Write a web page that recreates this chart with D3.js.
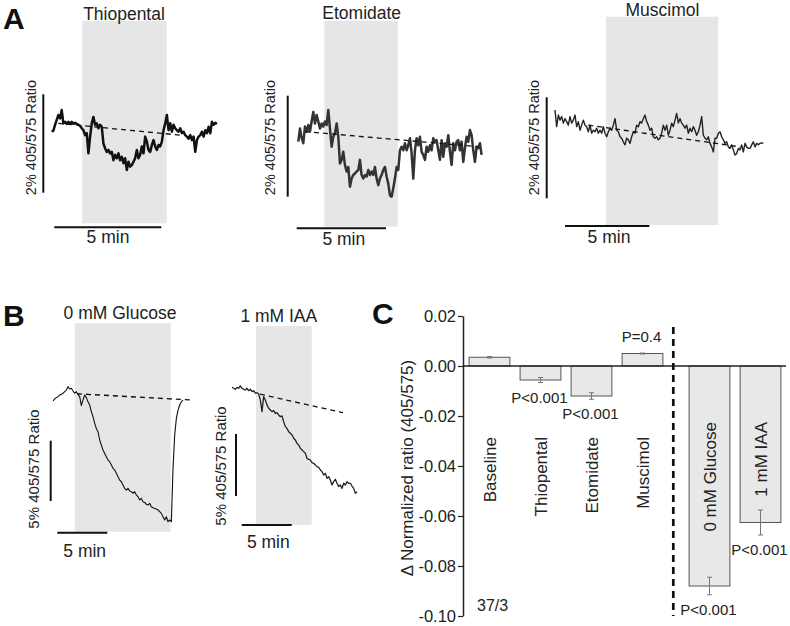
<!DOCTYPE html>
<html><head><meta charset="utf-8">
<script src="https://cdn.jsdelivr.net/npm/d3@7"></script>
<style>body{margin:0;background:#fff}svg{display:block}text{font-family:"Liberation Sans",Arial,sans-serif;fill:#222}</style>
</head><body><svg id="fig" width="790" height="626"></svg>
<script>
// ---------- DATA ----------
// Panel A/B traces: % change of 405/575 ratio relative to first sample, uniform sampling
const thiopental = [0,0.02,0.14,0.24,0.34,0.27,0.44,0.17,0.20,0.16,0.20,0.16,0.20,0.16,0.18,0.16,0.14,0.12,0.07,0.03,-0.07,-0.03,-0.44,-0.10,0.17,0.30,0.14,0.17,0.07,0.14,0.10,-0.24,-0.34,-0.41,-0.37,-0.44,-0.41,-0.58,-0.47,-0.54,-0.44,-0.58,-0.51,-0.64,-0.54,-0.78,-0.61,-0.71,-0.68,-0.61,-0.54,-0.37,-0.54,-0.47,-0.30,-0.44,-0.10,-0.20,-0.37,-0.41,-0.27,-0.17,-0.30,-0.37,-0.27,-0.30,-0.20,0.03,0.17,0.34,0.03,0.17,0,0.14,0.07,0.03,0,0.07,-0.03,0,-0.07,-0.10,-0.14,-0.07,-0.17,-0.10,-0.41,-0.17,-0.10,-0.07,0,-0.10,0.03,-0.03,0.10,-0.03,0.20,0.14,0.18,0.16];
const etomidate = [0,0.26,0.07,-0.03,0.30,0.20,0.33,0.20,0.40,0.59,0.36,0.53,0.40,0.26,0.36,0.30,0.40,0.33,0.63,0.26,-0.10,0.10,0.17,0.36,0.10,-0.43,-0.36,-0.20,-0.46,-0.59,-0.50,-0.89,-0.73,-0.66,-0.63,-0.59,-0.56,-0.36,-0.66,-0.73,-0.66,-0.69,-0.56,-0.66,-0.59,-0.66,-0.50,-0.73,-0.86,-0.73,-0.66,-0.56,-0.50,-0.69,-0.83,-1.06,-1.09,-0.92,-0.73,-0.50,-0.56,-0.17,-0.10,-0.17,-0.03,-0.17,-0.07,0.07,-0.23,-0.73,-0.17,0.07,-0.07,0.10,-0.20,-0.26,-0.36,-0.10,-0.20,-0.07,-0.17,0.07,0,0.03,-0.17,-0.36,0.03,-0.30,-0.03,-0.10,0.13,-0.20,-0.46,-0.03,-0.17,0,0.03,-0.17,0,-0.40,-0.13,0.10,0,0.23,0.13,-0.17,-0.40,-0.10,-0.13,-0.03,-0.26];
const muscimol = [0,-0.33,-0.10,-0.20,-0.13,-0.26,-0.17,-0.23,-0.30,-0.13,-0.26,-0.20,-0.10,-0.33,-0.23,-0.40,-0.30,-0.20,-0.30,-0.33,-0.43,-0.30,-0.46,-0.40,-0.43,-0.36,-0.46,-0.40,-0.46,-0.33,-0.46,-0.53,-0.43,-0.36,-0.40,-0.30,-0.17,-0.40,-0.43,-0.53,-0.56,-0.63,-0.69,-0.56,-0.59,-0.66,-0.53,-0.43,-0.46,-0.30,-0.33,-0.23,-0.26,-0.17,-0.10,-0.23,-0.30,-0.40,-0.36,-0.53,-0.56,-0.53,-0.59,-0.56,-0.46,-0.30,-0.40,-0.30,-0.50,-0.40,-0.26,-0.33,-0.20,-0.07,-0.26,-0.17,-0.26,-0.30,-0.36,-0.30,-0.46,-0.36,-0.43,-0.33,-0.40,-0.50,-0.43,-0.30,-0.13,-0.50,-0.56,-0.59,-0.53,-0.66,-0.73,-0.83,-0.56,-0.56,-0.46,-0.43,-0.53,-0.59,-0.66,-0.63,-0.73,-0.76,-0.69,-0.79,-0.89,-0.86,-0.76,-0.79,-0.69,-0.83,-0.66,-0.73,-0.76,-0.76,-0.69,-0.63,-0.73,-0.66,-0.69,-0.66,-0.65,-0.66];
const glucose0 = [0,0.17,0.28,0.36,0.50,0.55,0.64,0.77,0.91,1.19,0.99,1.05,0.83,0.64,0.77,0.55,0.36,-0.39,0.08,0.50,0.28,-0.06,-0.33,-0.88,-1.30,-1.85,-2.27,-2.54,-3.23,-3.65,-4.06,-4.34,-4.61,-4.89,-5.03,-5.30,-5.58,-5.72,-5.99,-6.27,-6.55,-6.69,-6.96,-7.24,-7.38,-7.24,-7.46,-7.51,-7.65,-7.51,-7.79,-7.93,-8.20,-8.07,-8.34,-8.40,-8.56,-8.62,-8.48,-8.76,-8.84,-8.90,-8.95,-9.03,-9.17,-9.31,-9.59,-9.86,-9.59,-10.0,-9.86,-10.0,-5.58,-2.82,-1.44,-0.75,-0.33,-0.06,0.08];
const iaa1 = [0,-0.08,-0.16,0,-0.08,0.11,-0.08,-0.16,-0.22,-0.08,-0.27,-0.16,-0.35,-0.27,-0.48,-0.43,-0.54,-1.02,-1.96,-0.75,-1.02,-1.42,-1.69,-1.83,-1.96,-1.88,-2.10,-2.04,-2.23,-2.37,-2.31,-2.77,-3.17,-3.31,-3.58,-3.71,-3.84,-4.11,-4.25,-4.52,-4.65,-4.92,-5.05,-5.19,-5.32,-5.73,-5.81,-5.86,-6.08,-6.13,-6.26,-6.40,-6.45,-6.67,-6.80,-7.07,-6.94,-7.34,-7.20,-7.47,-7.88,-7.61,-7.42,-7.74,-8.01,-7.88,-8.15,-7.74,-7.88,-7.61,-7.74,-7.74,-7.96,-8.15,-8.55,-8.41];
// sample intervals (min)
const sampleStep = [0.078, 0.0933, 0.0988, 0.1667, 0.1667];
// drug application windows (min)
const drugWindows = [[1.43,5.37],[1.46,5.57],[3.02,9.68],[2.17,11.77],[2.4,7.97]];
// baseline fits (dashed) [[t0,v0],[t1,v1]]
const baselineFits = [[[0.31,0.17],[6.0,-0.07]],[[0.375,0.20],[10.08,-0.10]],[[1.97,-0.30],[10.97,-0.73]],[[2.4,0.6],[13.8,0.08]],[[2.8,-0.55],[11.1,-2.05]]];
const traceTitles = ["Thiopental","Etomidate","Muscimol","0 mM Glucose","1 mM IAA"];
const scaleBarPct = [2,2,2,5,5];
const scaleBarMin = 5;

// Panel C
const categories1 = ["Baseline","Thiopental","Etomidate","Muscimol"];
const categories2 = ["0 mM Glucose","1 mM IAA"];
const values1 = [0.0035,-0.0056,-0.0120,0.0050];
const values2 = [-0.0880,-0.0626];
const errors1 = [0.0003,0.0010,0.0013,0.0002];
const errors2 = [0.0035,0.0050];
const pLabels1 = ["","P<0.001","P<0.001","P=0.4"];
const pLabels2 = ["P<0.001","P<0.001"];
const yTicks = [0.02,0,-0.02,-0.04,-0.06,-0.08,-0.10];
const yTickLabels = ["0.02","0.00","-0.02","-0.04","-0.06","-0.08","-0.10"];
const nLabel = "37/3";

// ---------- LAYOUT ----------
const svg = d3.select("#fig");
const traces = [thiopental, etomidate, muscimol, glucose0, iaa1];
const L = [
 {x0:51.7,y0:131.7,kx:21.4,ky:49.2,sh:[20.7,223.3],vb:[43.3,94.3],hb:[54.3,227.3],tt:[124,19.5],lb:[35.5,137.5],mn:[108,243],sw:2.5,col:"#111"},
 {x0:298.3,y0:141.7,kx:17.86,ky:50.5,sh:[20.7,226.7],vb:[287.7,95.7],hb:[296.7,228.3],tt:[361.7,19.3],lb:[275,137.5],mn:[343.8,245],sw:2.5,col:"#333"},
 {x0:555,y0:110,kx:16.87,ky:50.5,sh:[16.7,225],vb:[546.7,97.3],hb:[565,226],tt:[662.5,15.7],lb:[539,137.5],mn:[609,243.3],sw:1.4,col:"#222"},
 {x0:53,y0:401,kx:10,ky:12.07,sh:[323.3,531.7],vb:[50.7,440.7],hb:[57.3,532.7],tt:[120,319],lb:[38.5,469],mn:[84.7,557],sw:1.1,col:"#111"},
 {x0:232,y0:387.3,kx:10,ky:12.4,sh:[326,525],vb:[236,434],hb:[241.7,525],tt:[278.8,322],lb:[225.5,466],mn:[268.3,548],sw:1.3,col:"#222"}
];

traces.forEach((tr,k)=>{
  const l = L[k];
  const xs = d3.scaleLinear().domain([0,1]).range([l.x0,l.x0+l.kx]);
  const ys = d3.scaleLinear().domain([0,1]).range([l.y0,l.y0-l.ky]);
  const g = svg.append("g");
  g.append("rect").attr("x",xs(drugWindows[k][0])).attr("y",l.sh[0])
    .attr("width",xs(drugWindows[k][1])-xs(drugWindows[k][0])).attr("height",l.sh[1]-l.sh[0])
    .attr("fill","#e6e6e6");
  g.append("text").attr("x",l.tt[0]).attr("y",l.tt[1]).attr("text-anchor","middle")
    .attr("font-size",17.5).text(traceTitles[k]);
  const line = d3.line().x((d,i)=>xs(i*sampleStep[k])).y(d=>ys(d));
  g.append("path").attr("d",line(tr)).attr("fill","none").attr("stroke",l.col)
    .attr("stroke-width",l.sw).attr("stroke-linejoin","round");
  const bf = baselineFits[k];
  g.append("line").attr("x1",xs(bf[0][0])).attr("y1",ys(bf[0][1])).attr("x2",xs(bf[1][0])).attr("y2",ys(bf[1][1]))
    .attr("stroke","#111").attr("stroke-width",1.3).attr("stroke-dasharray","5,4");
  // scale bars
  const vlen = ys(0)-ys(scaleBarPct[k]);
  g.append("line").attr("x1",l.vb[0]).attr("x2",l.vb[0]).attr("y1",l.vb[1]).attr("y2",l.vb[1]+vlen)
    .attr("stroke","#111").attr("stroke-width",2);
  const hlen = xs(scaleBarMin)-xs(0);
  g.append("line").attr("x1",l.hb[0]).attr("x2",l.hb[0]+hlen).attr("y1",l.hb[1]).attr("y2",l.hb[1])
    .attr("stroke","#111").attr("stroke-width",2);
  g.append("text").attr("x",l.mn[0]).attr("y",l.mn[1]).attr("text-anchor","middle")
    .attr("font-size",17.5).text(scaleBarMin+" min");
  g.append("text").attr("transform",`translate(${l.lb[0]},${l.lb[1]}) rotate(-90)`)
    .attr("text-anchor","middle").attr("font-size",k<3?14.5:15)
    .text(scaleBarPct[k]+"% 405/575 Ratio");
});

// Panel letters
[["A",3,29],["B",3,326],["C",372,324]].forEach(p=>{
  svg.append("text").attr("x",p[1]).attr("y",p[2]).attr("font-size",30).attr("font-weight","bold")
    .style("fill","#111").text(p[0]);
});

// ---------- PANEL C ----------
const yC = d3.scaleLinear().domain([-0.10,0.02]).range([616,316]);
const axX = 463;
const xC1 = d3.scaleBand().domain(categories1).range([464,668]).paddingInner(0.2).paddingOuter(0.1);
const xC2 = d3.scaleBand().domain(categories2).range([684,786]).paddingInner(0.2).paddingOuter(0.1);
const gC = svg.append("g");

const ax = gC.append("g").attr("transform",`translate(${axX},0)`)
  .call(d3.axisLeft(yC).tickValues(yTicks).tickFormat((d,i)=>yTickLabels[i]).tickSize(5).tickSizeOuter(0).tickPadding(2));
ax.select(".domain").attr("stroke","#222").attr("stroke-width",1.5);
ax.selectAll(".tick line").attr("stroke","#222").attr("stroke-width",1.2);
ax.selectAll(".tick text").attr("font-size",16.5).attr("font-family","Liberation Sans, Arial, sans-serif").style("fill","#222");

gC.append("text").attr("transform",`translate(413,468) rotate(-90)`).attr("text-anchor","middle")
  .attr("font-size",17).text("\u0394 Normalized ratio (405/575)");

function drawGroup(xs, cats, vals, errs, pl, labelEnd){
  cats.forEach((c,i)=>{
    const x = xs(c), w = xs.bandwidth(), v = vals[i], e = errs[i];
    const cx = x + w/2;
    gC.append("rect").attr("x",x).attr("y",Math.min(yC(v),yC(0))).attr("width",w)
      .attr("height",Math.abs(yC(v)-yC(0))).attr("fill","#e8e8e8").attr("stroke","#555").attr("stroke-width",1);
    gC.append("line").attr("x1",cx).attr("x2",cx).attr("y1",yC(v-e)).attr("y2",yC(v+e)).attr("stroke","#777").attr("stroke-width",1);
    [v-e,v+e].forEach(t=>gC.append("line").attr("x1",cx-2.5).attr("x2",cx+2.5).attr("y1",yC(t)).attr("y2",yC(t)).attr("stroke","#777").attr("stroke-width",1));
    gC.append("text").attr("transform",`translate(${cx+6},${labelEnd}) rotate(-90)`).attr("text-anchor","end")
      .attr("font-size",17).text(c);
    if(pl[i]){
      const py = v>0 ? yC(v+e)-11 : yC(v-e)+20;
      gC.append("text").attr("x",cx-1).attr("y",py).attr("text-anchor","middle").attr("font-size",15).text(pl[i]);
    }
  });
}
drawGroup(xC1,categories1,values1,errors1,pLabels1,437);
drawGroup(xC2,categories2,values2,errors2,pLabels2,422);

// zero line
gC.append("line").attr("x1",axX).attr("x2",786).attr("y1",yC(0)).attr("y2",yC(0)).attr("stroke","#222").attr("stroke-width",1.5);
// separator dashed line
gC.append("line").attr("x1",673.3).attr("x2",673.3).attr("y1",327).attr("y2",616)
  .attr("stroke","#111").attr("stroke-width",2.7).attr("stroke-dasharray","7,5");
gC.append("text").attr("x",477).attr("y",611).attr("font-size",16).text(nLabel);
</script></body></html>
